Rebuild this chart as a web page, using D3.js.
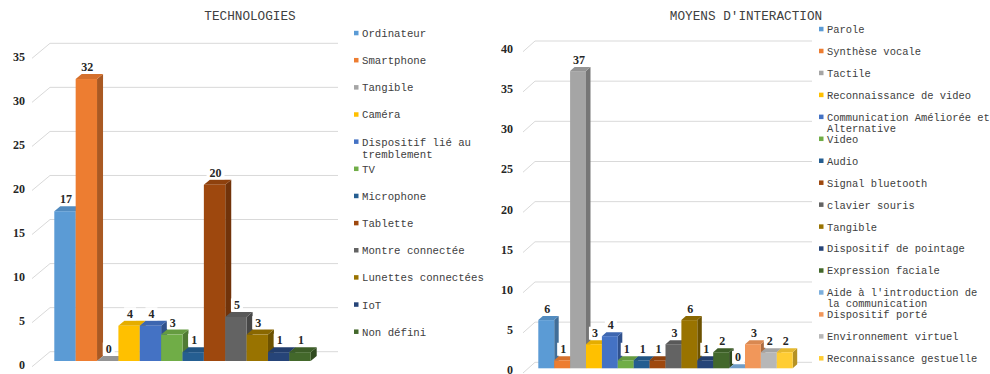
<!DOCTYPE html>
<html>
<head>
<meta charset="utf-8">
<script src="https://cdn.jsdelivr.net/npm/d3@7"></script>
<style>
  html, body { margin: 0; padding: 0; background: #fff; }
  svg { display: block; }
</style>
</head>
<body>
<svg id="chart" width="990" height="374"></svg>
<script>
// ---- Data: technologies used ----
const techCategories = [
  "Ordinateur", "Smartphone", "Tangible", "Caméra", "Dispositif lié au tremblement",
  "TV", "Microphone", "Tablette", "Montre connectée", "Lunettes connectées", "IoT", "Non défini"
];
const techValues = [17, 32, 0, 4, 4, 3, 1, 20, 5, 3, 1, 1];
const techTicks = [0, 5, 10, 15, 20, 25, 30, 35];

// ---- Data: interaction means ----
const interactionCategories = [
  "Parole", "Synthèse vocale", "Tactile", "Reconnaissance de video",
  "Communication Améliorée et Alternative", "Video", "Audio", "Signal bluetooth",
  "clavier souris", "Tangible", "Dispositif de pointage", "Expression faciale",
  "Aide à l'introduction de la communication", "Dispositif porté",
  "Environnement virtuel", "Reconnaissance gestuelle"
];
const interactionValues = [6, 1, 37, 3, 4, 1, 1, 1, 3, 6, 1, 2, 0, 3, 2, 2];
const interactionTicks = [0, 5, 10, 15, 20, 25, 30, 35, 40];

// Office-style palette
const palette = [
  "#5B9BD5", "#ED7D31", "#A5A5A5", "#FFC000", "#4472C4", "#70AD47",
  "#255E91", "#9E480E", "#636363", "#997300", "#264478", "#43682B",
  "#7CAFDD", "#F1975A", "#B7B7B7", "#FFCD33"
];

const svg = d3.select("#chart");
const MONO = "'Liberation Mono', 'DejaVu Sans Mono', monospace";
const SERIF = "'Liberation Serif', 'DejaVu Serif', serif";

function drawChart(opt) {
  const g = svg.append("g");

  // back-wall value scale
  const y = d3.scaleLinear().domain(opt.domain).range(opt.backRange);
  const x = d3.scaleBand().domain(opt.categories).range(opt.barRange).padding(0);
  const color = d3.scaleOrdinal().domain(opt.categories).range(palette);

  // title
  g.append("text")
    .attr("x", opt.titleX).attr("y", 20)
    .attr("text-anchor", "middle")
    .attr("font-family", MONO).attr("font-size", 12.7)
    .attr("fill", "#404040")
    .text(opt.title);

  // gridlines: side wall diagonal + back wall horizontal
  const grid = g.append("g");
  opt.ticks.forEach(t => {
    const yb = y(t);
    grid.append("path")
      .attr("d", `M${opt.backX0 - opt.sideDx},${yb + opt.sideDy}L${opt.backX0},${yb}L${opt.backX1},${yb}`)
      .attr("fill", "none").attr("stroke", "#d9d9d9").attr("stroke-width", 1);
    grid.append("text")
      .attr("x", opt.backX0 - opt.sideDx - opt.tickGap)
      .attr("y", yb + opt.sideDy - opt.tickLift)
      .attr("dy", "0.35em")
      .attr("text-anchor", "end")
      .attr("font-family", SERIF).attr("font-weight", "bold").attr("font-size", 12)
      .attr("fill", "#262626")
      .text(t);
  });

  // 3D columns, painted left to right
  const yFront = v => y(v) + opt.frontDrop;
  const dx = opt.depthX, dy = opt.depthY;
  const bars = g.append("g");
  opt.categories.forEach((c, i) => {
    const v = opt.values[i];
    const x0 = x(c), x1 = x0 + x.bandwidth();
    const yt = yFront(v), yb = yFront(0);
    const base = d3.color(color(c));
    const bar = bars.append("g");
    // side face
    bar.append("path")
      .attr("d", `M${x1},${yt}L${x1 + dx},${yt - dy}L${x1 + dx},${yb - dy}L${x1},${yb}Z`)
      .attr("fill", base.darker(0.95));
    // top face
    bar.append("path")
      .attr("d", `M${x0},${yt}L${x0 + dx},${yt - dy}L${x1 + dx},${yt - dy}L${x1},${yt}Z`)
      .attr("fill", base.darker(0.3));
    // front face
    bar.append("rect")
      .attr("x", x0).attr("y", yt)
      .attr("width", x.bandwidth()).attr("height", Math.max(0, yb - yt))
      .attr("fill", base);
  });

  // value labels with white backing
  const labels = g.append("g");
  opt.categories.forEach((c, i) => {
    const v = opt.values[i];
    const cx = x(c) + x.bandwidth() / 2 + 1;
    const by = yFront(v) - dy - 3;
    const lg = labels.append("g");
    const bg = lg.append("rect").attr("fill", "#fff");
    const t = lg.append("text")
      .attr("x", cx).attr("y", by)
      .attr("text-anchor", "middle")
      .attr("font-family", SERIF).attr("font-weight", "bold").attr("font-size", 12)
      .attr("fill", "#262626")
      .text(v);
    const w = t.node().getComputedTextLength();
    bg.attr("x", cx - w / 2 - 3).attr("y", by - 10.5)
      .attr("width", w + 6).attr("height", 13);
  });

  // legend
  const legend = g.append("g");
  opt.categories.forEach((c, i) => {
    const cy = opt.legendY0 + i * opt.legendStep;
    legend.append("rect")
      .attr("x", opt.legendX).attr("y", cy - 2.5)
      .attr("width", 4.5).attr("height", 4.5)
      .attr("fill", color(c));
    const t = legend.append("text")
      .attr("x", opt.legendX + 8).attr("y", cy)
      .attr("dy", "0.35em")
      .attr("font-family", MONO).attr("font-size", opt.legendFont)
      .attr("fill", "#404040");
    // greedy word wrap within the legend column
    const words = c.split(" ");
    let line = [], tspan = t.append("tspan").attr("x", opt.legendX + 8);
    words.forEach(wd => {
      line.push(wd);
      tspan.text(line.join(" "));
      if (tspan.node().getComputedTextLength() > opt.legendWidth && line.length > 1) {
        line.pop();
        tspan.text(line.join(" "));
        line = [wd];
        tspan = t.append("tspan").attr("x", opt.legendX + 8)
          .attr("dy", opt.legendLine).text(wd);
      }
    });
  });
}

drawChart({
  title: "TECHNOLOGIES", titleX: 250,
  categories: techCategories, values: techValues, ticks: techTicks,
  domain: [0, 35], backRange: [351.7, 43.3], frontDrop: 9.3,
  backX0: 50, backX1: 338, sideDx: 18, sideDy: 15, tickGap: 7, tickLift: 1.5,
  barRange: [54.3, 310.7], depthX: 6, depthY: 5,
  legendX: 354, legendY0: 33.3, legendStep: 27.15, legendFont: 10.7,
  legendWidth: 125, legendLine: 12.3
});

drawChart({
  title: "MOYENS D'INTERACTION", titleX: 746,
  categories: interactionCategories, values: interactionValues, ticks: interactionTicks,
  domain: [0, 40], backRange: [362.3, 41], frontDrop: 6,
  backX0: 535, backX1: 812, sideDx: 12, sideDy: 10.7, tickGap: 10, tickLift: 3,
  barRange: [538.3, 792.7], depthX: 4.5, depthY: 4,
  legendX: 819, legendY0: 29.3, legendStep: 21.95, legendFont: 10.45,
  legendWidth: 166, legendLine: 11
});
</script>
</body>
</html>
